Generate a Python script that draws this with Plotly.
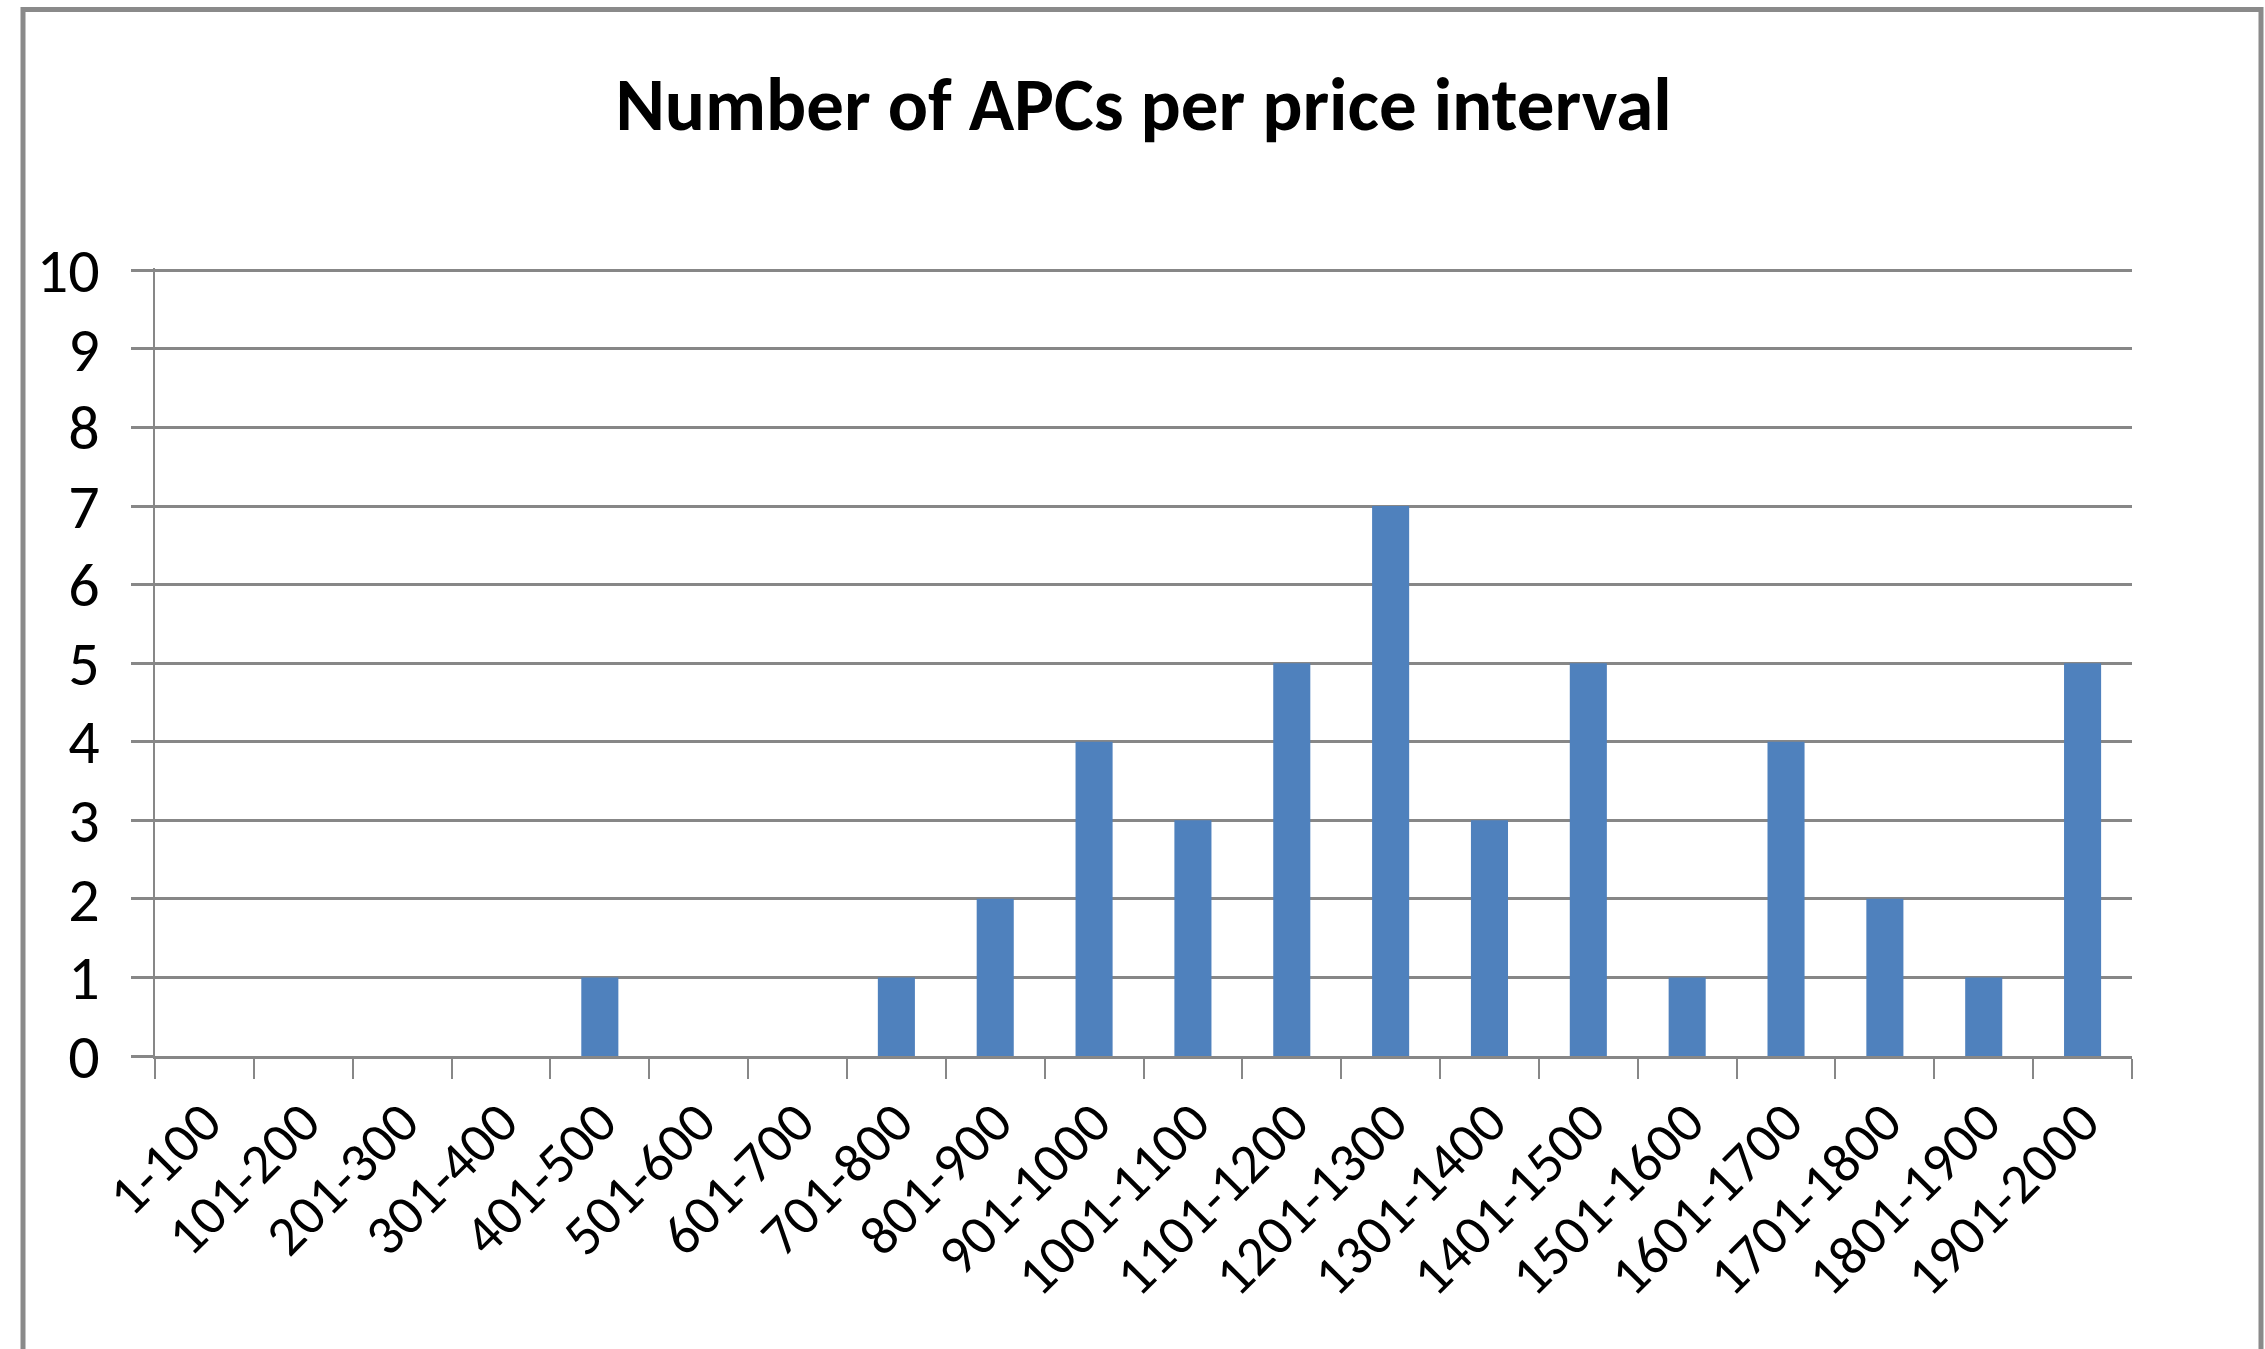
import plotly.graph_objects as go

categories = ["1-100", "101-200", "201-300", "301-400", "401-500", "501-600",
              "601-700", "701-800", "801-900", "901-1000", "1001-1100", "1101-1200",
              "1201-1300", "1301-1400", "1401-1500", "1501-1600", "1601-1700",
              "1701-1800", "1801-1900", "1901-2000"]
counts = [0, 0, 0, 0, 1, 0, 0, 1, 2, 4, 3, 5, 7, 3, 5, 1, 4, 2, 1, 5]
y_ticks = list(range(0, 11))

W, H = 2265, 1349
Y_TOP = 10.03
L, R, B = 155, 2132, 1056
unit = (1056 - 270) / 10.0
T = B - Y_TOP * unit
pw, ph = R - L, B - T

FONT = "Carlito, Calibri, Open Sans, sans-serif"
GRID = "#878787"

fig = go.Figure(go.Bar(
    x=categories, y=counts,
    marker=dict(color="#4F81BD", line=dict(width=0)),
))

def px_x(x):
    return (x - L) / pw

def px_y(y):
    return (B - y) / ph

fig.update_layout(
    width=W, height=H,
    margin=dict(l=L, r=W - R, t=T, b=H - B, autoexpand=False),
    paper_bgcolor="white", plot_bgcolor="white",
    bargap=0.625,
    showlegend=False,
    title=dict(text="Number of APCs per price interval",
               font=dict(family=FONT, size=75, color="#000000", weight="bold"),
               x=0.5 * (L + R) / W, xanchor="center",
               y=1 - 104 / H, yanchor="middle", yref="container"),
    xaxis=dict(
        type="category", showgrid=False, showline=True, linecolor=GRID, linewidth=3,
        ticks="outside", ticklen=20, tickwidth=2, tickcolor=GRID,
        tickson="boundaries", tickangle=-45, ticklabelstandoff=8,
        tickfont=dict(family=FONT, size=56, color="#000000"),
    ),
    yaxis=dict(
        range=[0, Y_TOP], tickvals=y_ticks, showgrid=True, gridcolor=GRID, gridwidth=3,
        showline=True, linecolor=GRID, linewidth=2, zeroline=False,
        ticks="outside", ticklen=22, tickwidth=3, tickcolor=GRID,
        ticklabelstandoff=19,
        tickfont=dict(family=FONT, size=62, color="#000000"),
    ),
    shapes=[dict(type="rect", xref="paper", yref="paper",
                 x0=px_x(23), x1=px_x(2261), y0=px_y(1360), y1=px_y(9),
                 line=dict(color="#8a8a8a", width=5), fillcolor="rgba(0,0,0,0)",
                 layer="above")],
)

fig.write_html(
    "out.html",
    config={"displayModeBar": False},
    post_script="document.body.style.margin='0';"
                "document.body.style.overflow='hidden';"
                "document.documentElement.style.overflow='hidden';",
)
